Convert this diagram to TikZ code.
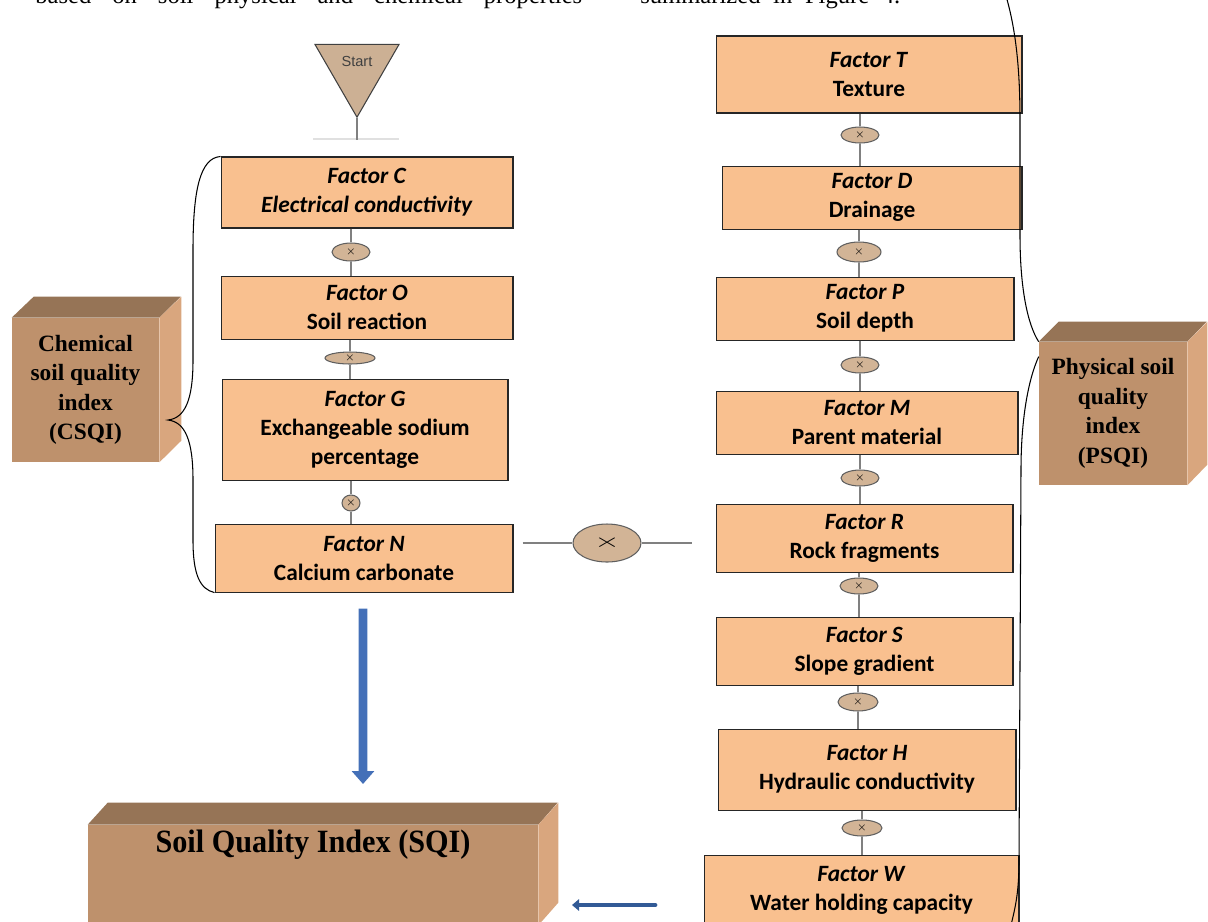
\documentclass[tikz,border=0pt]{standalone}
\usepackage{fontspec}
\usepackage{graphicx}
\setmainfont{Liberation Serif}
\newfontfamily\factorfont{Carlito}
\newfontfamily\startfont{Liberation Sans}
\usetikzlibrary{shapes.geometric, arrows.meta, positioning, calc, shadows}

\definecolor{factorfill}{RGB}{249,192,143}
\definecolor{multfill}{RGB}{210,180,150}
\definecolor{multline}{RGB}{95,95,95}
\definecolor{startfill}{RGB}{204,176,148}
\definecolor{linkgray}{RGB}{128,128,128}
\definecolor{boxfront}{RGB}{190,145,108}
\definecolor{boxtop}{RGB}{150,116,86}
\definecolor{boxside}{RGB}{217,166,126}
\definecolor{arrowblue}{RGB}{68,112,184}
\definecolor{arrowdark}{RGB}{50,90,150}

\tikzstyle{factor} = [
    rectangle,
    draw=black!85,
    line width=0.6pt,
    fill=factorfill,
    text centered,
    align=center,
    inner sep=0pt,
    drop shadow={shadow xshift=0.7pt, shadow yshift=-0.7pt, opacity=0.35},
    font=\factorfont\bfseries\fontsize{13.3}{16.5}\selectfont
]
\tikzstyle{mult} = [
    ellipse,
    draw=multline,
    line width=0.6pt,
    fill=multfill,
    inner sep=0pt,
    font=\fontsize{6}{6}\selectfont
]
\tikzstyle{startshape} = [
    regular polygon,
    regular polygon sides=3,
    shape border rotate=180,
    minimum size=1.94cm,
    inner sep=0pt,
    draw=black!75,
    line width=0.6pt,
    fill=startfill
]
\tikzstyle{quality} = [
    rectangle,
    fill=boxfront,
    align=center,
    inner sep=0pt,
    font=\bfseries\fontsize{13.3}{16.8}\selectfont
]
\tikzstyle{topface} = [fill=boxtop]
\tikzstyle{sideface} = [fill=boxside]
\tikzstyle{link} = [draw=linkgray, line width=1.1pt]
\tikzstyle{brace} = [draw=black, line width=0.6pt]
\tikzstyle{bigarrow} = [draw=arrowblue, line width=5pt, -{Triangle[width=12.5pt,length=7.4pt]}]
\tikzstyle{smallarrow} = [draw=arrowdark, line width=2.8pt, line cap=round, -{Triangle[width=6.5pt,length=4pt]}]

\begin{document}
\begin{tikzpicture}[x=0.02cm, y=-0.02cm]

\useasboundingbox (0,0) rectangle (1208,921);

% Text line cut off above the figure
\node (bodyA) [anchor=base west, inner sep=0pt, font=\fontsize{14}{16}\selectfont] at (35,3) {\makebox[10.94cm][s]{based on soil physical and chemical properties}};
\node (bodyB) [anchor=base west, inner sep=0pt, font=\fontsize{14}{16}\selectfont] at (640,3) {\makebox[5.2cm][s]{summarized in Figure 4.}};

% Start
\node (start) [startshape] at (357,68.7) {};
\node (startlabel) [font=\startfont\fontsize{8.3}{10}\selectfont, text=black!75] at (357,61) {Start};
\coordinate (startEnd) at (357,140);
\draw [draw=black!12, line width=0.8pt] (313,139) -- (399,139);

% Chemical factors
\node (factorC) [factor, minimum width=5.84cm, minimum height=1.42cm] at (367,192.5) {\textit{Factor C}\\\textit{Electrical conductivity}};
\node (factorO) [factor, minimum width=5.84cm, minimum height=1.26cm, below=0.94cm of factorC] {\textit{Factor O}\\Soil reaction};
\node (factorG) [factor, minimum width=5.72cm, minimum height=2.02cm, below=0.78cm of factorO, xshift=-0.04cm] {\textit{Factor G}\\Exchangeable sodium\\percentage};
\node (factorN) [factor, minimum width=5.96cm, minimum height=1.36cm, below=0.86cm of factorG, xshift=-0.02cm] {\textit{Factor N}\\Calcium carbonate};

\node (mulCO) [mult, minimum width=0.76cm, minimum height=0.36cm] at (351,252) {$\times$};
\node (mulOG) [mult, minimum width=1.0cm, minimum height=0.24cm] at (350,358) {$\times$};
\node (mulGN) [mult, minimum width=0.36cm, minimum height=0.32cm] at (351,503) {$\times$};

% Physical factors
\node (factorT) [factor, minimum width=6.12cm, minimum height=1.54cm] at (869,74.5) {\textit{Factor T}\\Texture};
\node (factorD) [factor, minimum width=6.0cm, minimum height=1.26cm, below=1.04cm of factorT, xshift=0.06cm] {\textit{Factor D}\\Drainage};
\node (factorP) [factor, minimum width=5.96cm, minimum height=1.26cm, below=0.94cm of factorD, xshift=-0.14cm] {\textit{Factor P}\\Soil depth};
\node (factorM) [factor, minimum width=6.04cm, minimum height=1.26cm, below=1.0cm of factorP, xshift=0.04cm] {\textit{Factor M}\\Parent material};
\node (factorR) [factor, minimum width=5.94cm, minimum height=1.36cm, below=0.98cm of factorM, xshift=-0.05cm] {\textit{Factor R}\\Rock fragments};
\node (factorS) [factor, minimum width=5.94cm, minimum height=1.36cm, below=0.88cm of factorR] {\textit{Factor S}\\Slope gradient};
\node (factorH) [factor, minimum width=5.96cm, minimum height=1.62cm, below=0.86cm of factorS, xshift=0.05cm] {\textit{Factor H}\\Hydraulic conductivity};
\node (factorW) [factor, minimum width=6.3cm, minimum height=1.4cm, below=0.88cm of factorH, xshift=-0.11cm] {\textit{Factor W}\\Water holding capacity};

\node (mulTD) [mult, minimum width=0.76cm, minimum height=0.32cm] at (860,135) {$\times$};
\node (mulDP) [mult, minimum width=0.88cm, minimum height=0.4cm] at (859,252) {$\times$};
\node (mulPM) [mult, minimum width=0.76cm, minimum height=0.32cm] at (860,365) {$\times$};
\node (mulMR) [mult, minimum width=0.76cm, minimum height=0.32cm] at (860,478) {$\times$};
\node (mulRS) [mult, minimum width=0.76cm, minimum height=0.32cm] at (859,586) {$\times$};
\node (mulSH) [mult, minimum width=0.8cm, minimum height=0.36cm] at (858,702) {$\times$};
\node (mulHW) [mult, minimum width=0.8cm, minimum height=0.32cm] at (862,828) {$\times$};

% Both indices multiplied
\node (mulNR) [mult, minimum width=1.36cm, minimum height=0.76cm, font=\fontsize{10}{10}\selectfont] at (607,543) {\scalebox{1.9}[1.1]{$\times$}};
\coordinate (nrLeft) at ($(factorN.east |- mulNR)+(9,0)$);
\coordinate (nrRight) at ($(factorR.west |- mulNR)+(-24,0)$);

% Index boxes
\node (csqi) [quality, minimum width=2.94cm, minimum height=2.88cm] at (85.5,390) {Chemical\\soil quality\\index\\(CSQI)};
\fill [topface] (csqi.north west) -- ++(22,-21) -- ++(147,0) -- (csqi.north east) -- cycle;
\fill [sideface] (csqi.north east) -- ++(22,-21) -- ++(0,144) -- (csqi.south east) -- cycle;
\coordinate (csqiTip) at (168,420);

\node (psqi) [quality, minimum width=2.96cm, minimum height=2.86cm] at (1113,413.5) {Physical soil\\quality\\index\\(PSQI)};
\fill [topface] (psqi.north west) -- ++(20,-20) -- ++(148,0) -- (psqi.north east) -- cycle;
\fill [sideface] (psqi.north east) -- ++(20,-20) -- ++(0,143) -- (psqi.south east) -- cycle;

\node (sqi) [quality, minimum width=9cm, minimum height=2.0cm] at (313,875) {};
\fill [topface] (sqi.north west) -- ++(20,-22) -- ++(450,0) -- (sqi.north east) -- cycle;
\fill [sideface] (sqi.north east) -- ++(20,-22) -- ++(0,100) -- (sqi.south east) -- cycle;
\node (sqilabel) [font=\bfseries\fontsize{18.5}{20}\selectfont] at (313,845) {\scalebox{0.93}[1]{Soil Quality Index (SQI)}};

% Links
\draw [link] (start.south) -- (startEnd);
\draw [link] (factorC.south -| mulCO) -- (mulCO);
\draw [link] (mulCO) -- (factorO.north -| mulCO);
\draw [link] (factorO.south -| mulOG) -- (mulOG);
\draw [link] (mulOG) -- (factorG.north -| mulOG);
\draw [link] (factorG.south -| mulGN) -- (mulGN);
\draw [link] (mulGN) -- (factorN.north -| mulGN);
\draw [link] (factorT.south -| mulTD) -- (mulTD);
\draw [link] (mulTD) -- (factorD.north -| mulTD);
\draw [link] (factorD.south -| mulDP) -- (mulDP);
\draw [link] (mulDP) -- (factorP.north -| mulDP);
\draw [link] (factorP.south -| mulPM) -- (mulPM);
\draw [link] (mulPM) -- (factorM.north -| mulPM);
\draw [link] (factorM.south -| mulMR) -- (mulMR);
\draw [link] (mulMR) -- (factorR.north -| mulMR);
\draw [link] (factorR.south -| mulRS) -- (mulRS);
\draw [link] (mulRS) -- (factorS.north -| mulRS);
\draw [link] (factorS.south -| mulSH) -- (mulSH);
\draw [link] (mulSH) -- (factorH.north -| mulSH);
\draw [link] (factorH.south -| mulHW) -- (mulHW);
\draw [link] (mulHW) -- (factorW.north -| mulHW);
\draw [link] (nrLeft) -- (mulNR) -- (nrRight);

% Braces
\draw [brace] (factorC.north west) .. controls (200,158) and (193,190) .. (193,250) -- (193,360) .. controls (193,400) and (185,418) .. (csqiTip) .. controls (185,422) and (193,440) .. (193,480) -- (193,540) .. controls (193,575) and (200,589) .. (factorN.south west);
\coordinate (braceTop) at (1006,-4);
\coordinate (braceEnd) at (1011,925);
\draw [brace] (braceTop) .. controls (1016,30) and (1020,70) .. (1020,120) -- (1020,235) .. controls (1020,290) and (1028,325) .. (psqi.north west);
\draw [brace] ([yshift=-0.3cm]psqi.north west) .. controls (1028,380) and (1021,420) .. (1021,470) -- (1019,860) .. controls (1019,890) and (1016,905) .. (braceEnd);

% Arrows to SQI
\coordinate (nOut) at ($(factorN.south)+(-1,16)$);
\coordinate (sqiIn) at (363,784);
\draw [bigarrow] (nOut) -- (sqiIn);
\coordinate (wOut) at (655,905);
\coordinate (sqiSide) at (572,905);
\draw [smallarrow] (wOut) -- (sqiSide);

\end{tikzpicture}
\end{document}
